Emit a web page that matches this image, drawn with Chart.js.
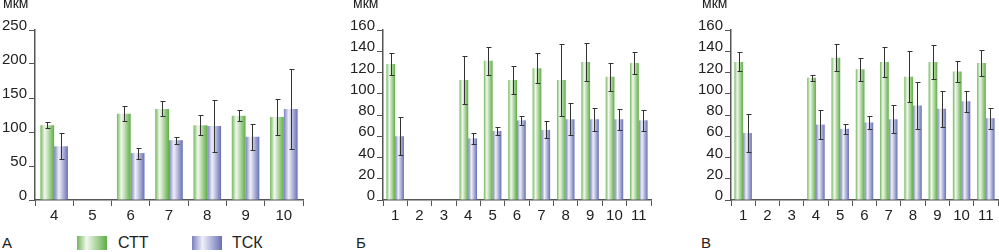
<!DOCTYPE html>
<html>
<head>
<meta charset="utf-8">
<script src="https://cdn.jsdelivr.net/npm/chart.js@4"></script>
<style>
  body { margin: 0; background: #fff; width: 999px; height: 252px; overflow: hidden; position: relative;
         font-family: 'Liberation Sans', Arial, sans-serif; color: #222; }
  canvas { position: absolute; top: 0; }
  .txt { position: absolute; font-size: 15px; line-height: 15px; white-space: nowrap; }
  .leg { position: absolute; font-size: 16px; line-height: 16px; white-space: nowrap; top: 235px; }
  .unit { position: absolute; font-size: 14px; line-height: 14px; top: -4px; }
  .box { position: absolute; top: 236px; width: 30px; height: 14px; }
</style>
</head>
<body>
<canvas id="chartA" width="310" height="225" style="left:0px"></canvas>
<canvas id="chartB" width="310" height="225" style="left:348px"></canvas>
<canvas id="chartC" width="303" height="225" style="left:696px"></canvas>

<div class="unit" style="left:3px">мкм</div>
<div class="unit" style="left:353px">мкм</div>
<div class="unit" style="left:702px">мкм</div>

<div class="txt" style="left:2px; top:235px">А</div>
<div class="txt" style="left:356px; top:235px">Б</div>
<div class="txt" style="left:701px; top:235px">В</div>

<div class="box" style="left:77px; background:linear-gradient(to right,#72b85c,#f2f8ee 32%,#5fae45)"></div>
<div class="leg" style="left:118px">СТТ</div>
<div class="box" style="left:192px; background:linear-gradient(to right,#7a80c0,#f0f0f8 35%,#6870b6)"></div>
<div class="leg" style="left:232px">ТСК</div>

<script>
  // Панель А
  let catsA = ['4', '5', '6', '7', '8', '9', '10'];
  let sttA = [110, null, 127, 134, 110, 124, 122];
  let sttErrA = [4, null, 11, 11, 15, 8, 26];
  let tskA = [79, null, 69, 88, 109, 93, 134];
  let tskErrA = [19, null, 8, 5, 38, 19, 59];

  // Панель Б
  let catsB = ['1', '2', '3', '4', '5', '6', '7', '8', '9', '10', '11'];
  let sttB = [128, null, null, 113, 131, 113, 124, 113, 130, 116, 129];
  let sttErrB = [10, null, null, 23, 13, 13, 14, 34, 18, 13, 10];
  let tskB = [60, null, null, 58, 65, 75, 66, 76, 76, 76, 75];
  let tskErrB = [18, null, null, 5, 4, 4, 8, 15, 11, 10, 10];

  // Панель В
  let catsC = ['1', '2', '3', '4', '5', '6', '7', '8', '9', '10', '11'];
  let sttC = [130, null, null, 115, 134, 123, 130, 116, 130, 121, 129];
  let sttErrC = [9, null, null, 3, 13, 11, 14, 24, 16, 10, 12];
  let tskC = [63, null, null, 71, 67, 73, 76, 89, 86, 93, 77];
  let tskErrC = [18, null, null, 14, 5, 6, 13, 22, 17, 10, 10];

  let greenStops = ['#72b85c', '#f2f8ee', '#5fae45'];
  let blueStops = ['#7a80c0', '#f0f0f8', '#6870b6'];

  // градиент по ширине каждого столбика
  let gradientPlugin = {
    id: 'barGradient',
    beforeDatasetsDraw(chart) {
      let ctx = chart.ctx;
      chart.data.datasets.forEach((ds, di) => {
        chart.getDatasetMeta(di).data.forEach(bar => {
          let left = bar.x - bar.width / 2;
          let g = ctx.createLinearGradient(left, 0, left + bar.width, 0);
          g.addColorStop(0, ds.stops[0]);
          g.addColorStop(di === 0 ? 0.32 : 0.35, ds.stops[1]);
          g.addColorStop(1, ds.stops[2]);
          bar.options.backgroundColor = g;
        });
      });
    }
  };

  // планки погрешностей
  let errorPlugin = {
    id: 'errorBars',
    afterDatasetsDraw(chart) {
      let ctx = chart.ctx;
      let y = chart.scales.y;
      ctx.save();
      ctx.strokeStyle = '#333';
      ctx.lineWidth = 1;
      chart.data.datasets.forEach((ds, di) => {
        chart.getDatasetMeta(di).data.forEach((bar, i) => {
          let v = ds.data[i];
          let e = ds.errors[i];
          if (v == null || e == null) return;
          let x = Math.round(bar.x) + 0.5;
          let top = Math.round(y.getPixelForValue(v + e)) + 0.5;
          let bot = Math.round(y.getPixelForValue(v - e)) + 0.5;
          ctx.beginPath();
          ctx.moveTo(x, top); ctx.lineTo(x, bot);
          ctx.moveTo(x - 2, top); ctx.lineTo(x + 3, top);
          ctx.moveTo(x - 2, bot); ctx.lineTo(x + 3, bot);
          ctx.stroke();
        });
      });
      ctx.restore();
    }
  };

  function makeChart(id, cats, stt, sttErr, tsk, tskErr, yMax, yStep, padRight) {
    let font = { family: "'Liberation Sans', Arial, sans-serif", size: 15 };
    return new Chart(document.getElementById(id).getContext('2d'), {
      type: 'bar',
      data: {
        labels: cats,
        datasets: [
          { label: 'СТТ', data: stt, errors: sttErr, stops: greenStops, backgroundColor: () => '#72b85c' },
          { label: 'ТСК', data: tsk, errors: tskErr, stops: blueStops, backgroundColor: () => '#7a80c0' }
        ]
      },
      options: {
        responsive: false,
        animation: false,
        layout: { padding: { top: 30, right: padRight, left: 0, bottom: 0 } },
        datasets: { bar: { categoryPercentage: 0.72, barPercentage: 1 } },
        plugins: { legend: { display: false }, tooltip: { enabled: false } },
        scales: {
          x: {
            offset: true,
            grid: { offset: true, drawOnChartArea: false, drawTicks: true, tickLength: 6, color: '#555' },
            border: { color: '#555', width: 1.5 },
            ticks: { color: '#222', font: font, padding: 1, maxRotation: 0, autoSkip: false },
            afterFit: s => { s.height = 25; }
          },
          y: {
            min: 0, max: yMax,
            grid: { drawOnChartArea: false, drawTicks: true, tickLength: 6, color: '#555' },
            border: { color: '#555', width: 1.5 },
            ticks: { stepSize: yStep, color: '#222', font: font, padding: 2, labelOffset: -4, autoSkip: false },
            afterFit: s => { s.width = 35; }
          }
        }
      },
      plugins: [gradientPlugin, errorPlugin]
    });
  }

  makeChart('chartA', catsA, sttA, sttErrA, tskA, tskErrA, 250, 50, 7);
  makeChart('chartB', catsB, sttB, sttErrB, tskB, tskErrB, 160, 20, 7);
  makeChart('chartC', catsC, sttC, sttErrC, tskC, tskErrC, 160, 20, 1);
</script>
</body>
</html>
